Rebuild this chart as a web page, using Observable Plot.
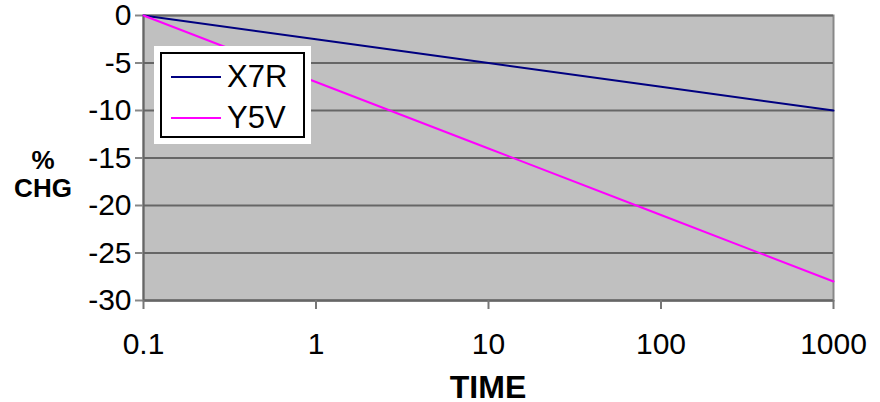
<!DOCTYPE html>
<html>
<head>
<meta charset="utf-8">
<script src="https://cdn.jsdelivr.net/npm/d3@7"></script>
<script src="https://cdn.jsdelivr.net/npm/@observablehq/plot@0.6"></script>
<style>
  html, body { margin: 0; padding: 0; background: #fff; }
  #wrap { position: relative; width: 880px; height: 402px; font-family: "Liberation Sans", Arial, sans-serif; }
  #wrap svg { position: absolute; left: 0; top: 0; }
  .ylab { position: absolute; left: 0; width: 86px; text-align: center; font-weight: bold; font-size: 26px; line-height: 28px; color: #000; }
  .xlab { position: absolute; left: 388px; width: 200px; top: 373px; text-align: center; font-weight: bold; font-size: 32px; line-height: 28px; color: #000; }
  #legend { position: absolute; left: 154px; top: 46px; width: 157px; height: 98px; background: #fff; box-sizing: border-box; padding: 6px; }
  #legend .box { position: relative; width: 100%; height: 100%; border: 2px solid #000; box-sizing: border-box; }
  #legend .row { position: absolute; left: 0; height: 36px; display: flex; align-items: center; }
  #legend .swatch { margin-left: 9px; width: 50px; height: 0; border-top: 2px solid; }
  #legend .name { margin-left: 6px; font-size: 31px; line-height: 36px; color: #000; }
</style>
</head>
<body>
<div id="wrap"></div>
<script>
// Data
const times = [0.1, 1, 10, 100, 1000];
const x7r = [0, -2.5, -5, -7.5, -10];
const y5v = [0, -7, -14, -21, -28];
const seriesNames = ["X7R", "Y5V"];
const seriesColors = ["#000080", "#ff00ff"];
const xTickLabels = ["0.1", "1", "10", "100", "1000"];
const yTicks = [0, -5, -10, -15, -20, -25, -30];
const yTickLabels = ["0", "-5", "-10", "-15", "-20", "-25", "-30"];

const rows = [];
times.forEach((t, i) => {
  rows.push({series: "X7R", time: t, value: x7r[i]});
  rows.push({series: "Y5V", time: t, value: y5v[i]});
});

const chart = Plot.plot({
  width: 880,
  height: 402,
  marginLeft: 143,
  marginRight: 47,
  marginTop: 15,
  marginBottom: 102,
  style: {fontFamily: "'Liberation Sans', Arial, sans-serif", fontSize: "30px", color: "#000", background: "transparent", overflow: "visible"},
  x: {type: "log", domain: [0.1, 1000], label: null},
  y: {domain: [-30, 0], label: null},
  color: {domain: seriesNames, range: seriesColors},
  marks: [
    Plot.frame({fill: "#c0c0c0", stroke: "#888", strokeWidth: 2}),
    Plot.gridY(yTicks, {stroke: "#666", strokeOpacity: 1, strokeWidth: 2}),
    Plot.ruleX([0.1], {stroke: "#666", strokeWidth: 2}),
    Plot.ruleY([-30], {stroke: "#666", strokeWidth: 2}),
    Plot.axisY({ticks: yTicks, tickFormat: (d) => yTickLabels[yTicks.indexOf(d)], tickSize: 8, tickPadding: 4, stroke: "#888", strokeWidth: 2, label: null, fill: "#000", fontSize: 30}),
    Plot.axisX({ticks: times, tickFormat: (d) => xTickLabels[times.indexOf(d)], tickSize: 9, tickPadding: 23, stroke: "#777", strokeWidth: 2, label: null, fill: "#000", fontSize: 30}),
    Plot.line(rows, {x: "time", y: "value", z: "series", stroke: "series", strokeWidth: 2})
  ]
});

const wrap = document.getElementById("wrap");
wrap.appendChild(chart);

// Y axis title
const yl1 = document.createElement("div");
yl1.className = "ylab"; yl1.style.top = "146px"; yl1.textContent = "%";
const yl2 = document.createElement("div");
yl2.className = "ylab"; yl2.style.top = "174px"; yl2.textContent = "CHG";
wrap.appendChild(yl1); wrap.appendChild(yl2);

// X axis title
const xl = document.createElement("div");
xl.className = "xlab"; xl.textContent = "TIME";
wrap.appendChild(xl);

// Legend
const legend = document.createElement("div");
legend.id = "legend";
const box = document.createElement("div");
box.className = "box";
legend.appendChild(box);
const rowCenters = [23, 64];
seriesNames.forEach((name, i) => {
  const r = document.createElement("div");
  r.className = "row";
  r.style.top = (rowCenters[i] - 18) + "px";
  const sw = document.createElement("div");
  sw.className = "swatch";
  sw.style.borderTopColor = seriesColors[i];
  const tx = document.createElement("div");
  tx.className = "name";
  tx.textContent = name;
  r.appendChild(sw); r.appendChild(tx);
  box.appendChild(r);
});
wrap.appendChild(legend);
</script>
</body>
</html>
